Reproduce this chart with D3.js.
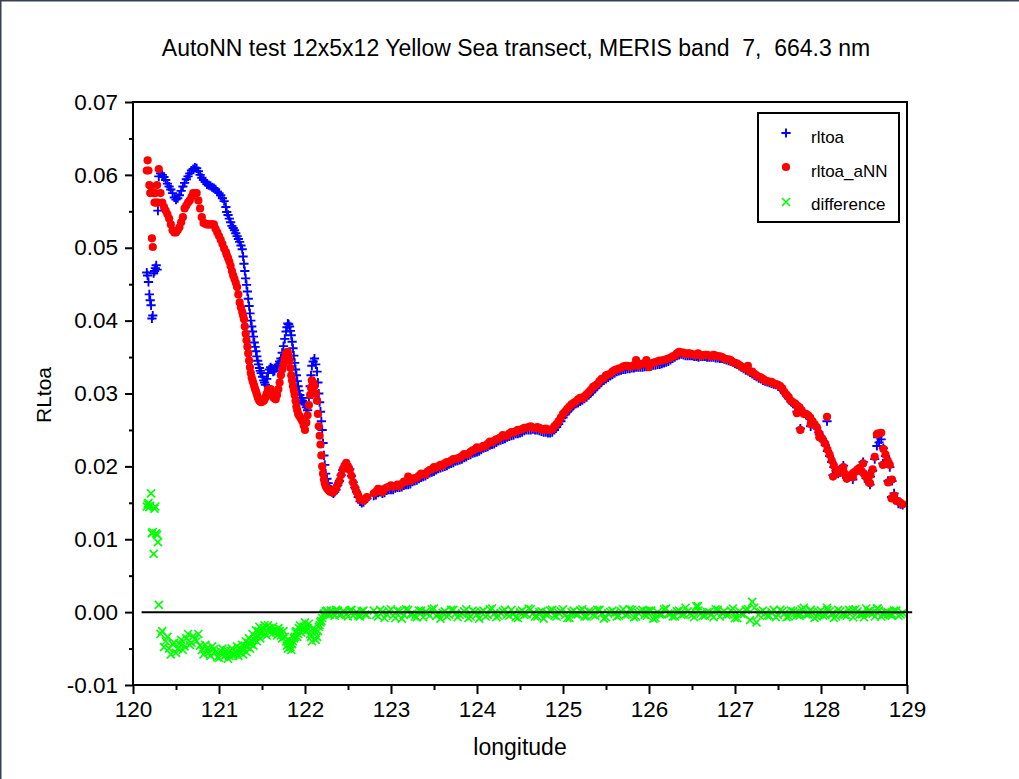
<!DOCTYPE html>
<html><head><meta charset="utf-8">
<script src="https://cdn.jsdelivr.net/npm/d3@7"></script>
<style>html,body{margin:0;padding:0;background:#fff;overflow:hidden}svg{display:block;font-family:Arial,"Liberation Sans",sans-serif}</style>
</head><body><svg id="c" width="1019" height="779"></svg>
<script>
const titleText = "AutoNN test 12x5x12 Yellow Sea transect, MERIS band  7,  664.3 nm";
const xLabel = "longitude";
const yLabel = "RLtoa";
const seriesNames = ["rltoa", "rltoa_aNN", "difference"];
const xTicks = [120, 121, 122, 123, 124, 125, 126, 127, 128, 129];
const xMinorTicks = [120.5, 121.5, 122.5, 123.5, 124.5, 125.5, 126.5, 127.5, 128.5];
const yTicks = [-0.01, 0.00, 0.01, 0.02, 0.03, 0.04, 0.05, 0.06, 0.07];
const yMinorTicks = [-0.005, 0.005, 0.015, 0.025, 0.035, 0.045, 0.055, 0.065];
const zeroLineExtent = [120.1, 129.06];

const lon = [
 120.16,120.17,120.18,120.19,120.20,120.21,120.22,120.23,120.24,120.25,120.26,120.27,120.28,120.29,120.30,
 120.34,120.38,120.42,120.46,120.50,120.54,120.58,120.62,120.66,120.70,120.74,120.78,120.82,120.86,120.90,120.94,120.98,121.02,121.06,
 121.09,121.12,121.15,121.18,121.21,121.24,121.27,121.29,121.31,121.33,121.35,121.37,121.39,121.41,121.43,121.45,121.47,121.49,
 121.52,121.54,121.57,121.60,121.63,121.66,121.69,121.72,121.75,121.78,121.80,121.82,121.84,121.86,121.88,121.90,121.92,121.94,121.97,
 122.00,122.03,122.06,122.08,122.11,122.14,122.16,122.18,122.20,122.22,122.24,122.27,122.30,122.33,122.36,122.40,122.44,122.48,122.52,
 122.56,122.60,122.64,122.68,122.72,
 122.80,122.85,122.90,122.95,123.00,123.05,123.10,123.15,123.20,123.25,123.30,123.35,123.40,123.45,123.50,123.55,123.60,123.65,123.70,123.75,
 123.80,123.85,123.90,123.95,124.00,124.05,124.10,124.15,124.20,124.25,124.30,124.35,124.40,124.45,124.50,124.55,124.60,124.65,124.70,124.75,
 124.80,124.85,124.90,124.95,125.00,125.05,125.10,125.15,125.20,125.25,125.30,125.35,125.40,125.45,125.50,125.55,125.60,125.65,125.70,125.75,
 125.80,125.85,125.90,125.95,126.00,126.05,126.10,126.15,126.20,126.25,126.30,126.35,126.40,126.45,126.50,126.55,126.60,126.65,126.70,126.75,
 126.80,126.85,126.90,126.95,127.00,127.05,127.10,127.15,127.20,127.25,127.30,127.35,127.40,127.45,127.50,127.55,127.60,127.65,127.70,127.75,
 127.80,127.85,127.90,127.95,128.00,128.05,128.10,128.15,128.20,128.25,128.30,128.35,128.40,128.45,128.50,128.55,128.60,128.65,128.70,128.75,
 128.80,128.85,128.90,128.95,
 127.72,127.76,127.88,127.98,128.07,128.14,128.26,128.37,128.49,128.57,128.66,128.72,128.78,128.82,126.57,125.97,
 120.32,120.36,120.40,120.44,120.48,120.52,120.56,120.60,120.64,120.68,120.72,120.76,120.80,120.84,120.88,120.92,120.96,121.00,121.04,121.08,
 121.105,121.135,121.165,121.195,121.225,121.255,121.28,121.30,121.32,121.34,121.36,121.38,121.40,121.42,121.44,121.46,121.48,121.505,121.53,121.555,
 121.585,121.615,121.645,121.675,121.705,121.735,121.765,121.79,121.81,121.83,121.85,121.87,121.89,121.91,121.93,121.955,121.985,122.015,122.045,122.07,
 122.095,122.125,122.15,122.17,122.19,122.21,122.23,122.255,122.285,122.315,122.345,122.38,122.42,122.46,122.50,122.54,122.58,122.62,122.66,122.70,
 122.825,122.875,122.925,122.975,123.025,123.075,123.125,123.175,123.225,123.275,
 123.325,123.375,123.425,123.475,123.525,123.575,123.625,123.675,123.725,123.775,
 123.825,123.875,123.925,123.975,124.025,124.075,124.125,124.175,124.225,124.275,
 124.325,124.375,124.425,124.475,124.525,124.575,124.625,124.675,124.725,124.775,
 124.825,124.875,124.925,124.975,125.025,125.075,125.125,125.175,125.225,125.275,
 125.325,125.375,125.425,125.475,125.525,125.575,125.625,125.675,125.725,125.775,
 125.825,125.875,125.925,125.975,126.025,126.075,126.125,126.175,126.225,126.275,
 126.325,126.375,126.425,126.475,126.525,126.575,126.625,126.675,126.725,126.775,
 126.825,126.875,126.925,126.975,127.025,127.075,127.125,127.175,127.225,127.275,
 127.325,127.375,127.425,127.475,127.525,127.575,127.625,127.675,127.725,127.775,
 127.825,127.875,127.925,127.975,128.025,128.075,128.125,128.175,128.225,128.275,
 128.325,128.375,128.425,128.475,128.525,128.575,128.625,128.675,128.725,128.775,
 128.825,128.875,128.925
];

const rltoa = [
 .0466,.0462,.0453,.0436,.0428,.0421,.0403,.0407,.0465,.0468,.0472,.0476,.0470,.0551,.0598,
 .0600,.0593,.0584,.0575,.0566,.0572,.0584,.0594,.0602,.0608,.0609,.0600,.0593,.0587,.0585,.0582,.0577,.0572,.0564,
 .0549,.0540,.0530,.0524,.0516,.0508,.0498,.0478,.0458,.0440,.0420,.0400,.0385,.0370,.0358,.0345,.0335,.0328,
 .0318,.0312,.0328,.0336,.0330,.0335,.0340,.0348,.0365,.0385,.0396,.0392,.0380,.0362,.0342,.0325,.0310,.0298,.0290,
 .0285,.0277,.0310,.0338,.0348,.0330,.0300,.0275,.0250,.0215,.0190,.0177,.0168,.0163,.0168,.0180,.0195,.0203,.0196,
 .0178,.0165,.0152,.0151,.0156,
 .0160,.0164,.0163,.0167,.0168,.0170,.0171,.0174,.0175,.0179,.0181,.0185,.0187,.0191,.0193,.0197,.0199,.0201,.0204,.0207,
 .0209,.0212,.0215,.0218,.0220,.0223,.0226,.0229,.0231,.0235,.0237,.0240,.0242,.0245,.0246,.0249,.0250,.0251,.0250,.0248,
 .0247,.0246,.0250,.0258,.0267,.0275,.0281,.0286,.0289,.0293,.0298,.0304,.0310,.0316,.0320,.0324,.0328,.0331,.0333,.0334,
 .0335,.0336,.0336,.0337,.0338,.0339,.0340,.0341,.0343,.0346,.0350,.0353,.0353,.0352,.0352,.0351,.0351,.0351,.0350,.0350,
 .0349,.0348,.0346,.0344,.0341,.0338,.0334,.0331,.0327,.0323,.0320,.0317,.0315,.0313,.0310,.0305,.0297,.0289,.0283,.0279,
 .0273,.0268,.0261,.0253,.0241,.0229,.0214,.0199,.0190,.0194,.0184,.0187,.0192,.0196,.0189,.0179,.0194,.0228,.0237,.0214,
 .0199,.0163,.0149,.0147,
 .0275,.0252,.0255,.0244,.0262,.0188,.0201,.0182,.0206,.0175,.0240,.0204,.0180,.0158,.0352,.0338,
 .0602,.0597,.0588,.0580,.0569,.0568,.0578,.0589,.0598,.0606,.0610,.0605,.0596,.0590,.0586,.0583,.0580,.0575,.0568,.0556,
 .0545,.0535,.0527,.0520,.0512,.0503,.0488,.0468,.0449,.0430,.0410,.0392,.0378,.0364,.0351,.0340,.0331,.0323,.0315,.0320,
 .0333,.0334,.0331,.0338,.0344,.0356,.0375,.0391,.0395,.0386,.0371,.0352,.0333,.0317,.0304,.0294,.0287,.0281,.0294,.0325,
 .0344,.0340,.0315,.0288,.0262,.0232,.0202,.0183,.0172,.0165,.0165,.0174,.0188,.0200,.0200,.0187,.0171,.0158,.0150,.0154,
 .0161,.0165,.0164,.0168,.0168,.0171,.0172,.0175,.0176,.0180,
 .0183,.0186,.0189,.0192,.0195,.0198,.0200,.0203,.0205,.0208,
 .0210,.0213,.0216,.0219,.0221,.0225,.0227,.0230,.0233,.0236,
 .0238,.0241,.0243,.0245,.0247,.0250,.0250,.0250,.0249,.0247,
 .0246,.0247,.0254,.0262,.0271,.0278,.0284,.0287,.0291,.0295,
 .0301,.0307,.0313,.0318,.0322,.0326,.0330,.0332,.0333,.0334,
 .0335,.0336,.0336,.0337,.0338,.0339,.0340,.0342,.0344,.0348,
 .0352,.0354,.0352,.0352,.0351,.0350,.0351,.0350,.0350,.0349,
 .0348,.0347,.0345,.0343,.0340,.0336,.0332,.0329,.0325,.0321,
 .0318,.0316,.0314,.0312,.0308,.0301,.0293,.0286,.0281,.0276,
 .0271,.0265,.0257,.0247,.0235,.0221,.0206,.0194,.0192,.0189,
 .0186,.0190,.0194,.0192,.0184,.0186,.0210,.0233,.0225,.0207,
 .0180,.0156,.0148
];

const rltoaANN = [
 .0606,.0620,.0606,.0586,.0575,.0584,.0513,.0501,.0575,.0562,.0575,.0562,.0586,.0562,.0608,
 .0562,.0551,.0540,.0524,.0521,.0528,.0542,.0558,.0565,.0575,.0575,.0554,.0534,.0532,.0532,.0532,.0521,.0511,.0499,
 .0490,.0481,.0468,.0457,.0446,.0425,.0412,.0402,.0382,.0364,.0345,.0328,.0318,.0310,.0303,.0295,.0290,.0288,
 .0290,.0295,.0305,.0306,.0295,.0292,.0306,.0325,.0340,.0355,.0357,.0345,.0325,.0310,.0298,.0282,.0272,.0268,.0262,
 .0250,.0270,.0298,.0318,.0310,.0290,.0255,.0230,.0200,.0182,.0173,.0168,.0165,.0165,.0170,.0180,.0196,.0205,.0195,
 .0178,.0165,.0155,.0153,.0158,
 .0163,.0169,.0165,.0171,.0174,.0173,.0173,.0179,.0186,.0182,.0184,.0190,.0189,.0195,.0199,.0200,.0201,.0206,.0208,.0210,
 .0212,.0217,.0217,.0222,.0226,.0226,.0228,.0234,.0235,.0238,.0243,.0242,.0247,.0248,.0250,.0253,.0254,.0253,.0254,.0251,
 .0252,.0250,.0255,.0262,.0272,.0279,.0285,.0289,.0294,.0296,.0302,.0309,.0313,.0320,.0325,.0327,.0332,.0334,.0337,.0338,
 .0337,.0346,.0340,.0341,.0336,.0342,.0344,.0345,.0347,.0349,.0352,.0357,.0356,.0355,.0354,.0353,.0352,.0353,.0352,.0353,
 .0351,.0350,.0347,.0346,.0342,.0339,.0335,.0338,.0330,.0325,.0322,.0318,.0316,.0314,.0312,.0307,.0298,.0290,.0286,.0281,
 .0272,.0270,.0262,.0254,.0240,.0231,.0216,.0201,.0191,.0196,.0183,.0188,.0193,.0198,.0190,.0180,.0196,.0244,.0246,.0216,
 .0202,.0160,.0152,.0148,
 .0273,.0250,.0258,.0240,.0268,.0186,.0199,.0185,.0204,.0177,.0245,.0202,.0178,.0156,.0355,.0346,
 .0575,.0556,.0546,.0532,.0521,.0524,.0535,.0554,.0562,.0570,.0575,.0565,.0542,.0533,.0532,.0532,.0526,.0516,.0505,.0494,
 .0486,.0475,.0462,.0452,.0436,.0418,.0407,.0392,.0373,.0355,.0336,.0322,.0314,.0306,.0299,.0292,.0289,.0289,.0292,.0300,
 .0306,.0300,.0293,.0298,.0315,.0333,.0348,.0356,.0352,.0335,.0318,.0304,.0290,.0277,.0270,.0265,.0256,.0260,.0284,.0308,
 .0315,.0300,.0272,.0242,.0215,.0190,.0177,.0170,.0166,.0164,.0167,.0175,.0188,.0201,.0200,.0187,.0171,.0160,.0154,.0155,
 .0165,.0168,.0169,.0172,.0172,.0175,.0176,.0179,.0180,.0184,
 .0187,.0189,.0193,.0196,.0198,.0202,.0204,.0206,.0210,.0211,
 .0214,.0216,.0220,.0223,.0225,.0228,.0231,.0233,.0237,.0240,
 .0242,.0245,.0246,.0250,.0251,.0253,.0255,.0252,.0253,.0250,
 .0250,.0251,.0258,.0267,.0275,.0282,.0287,.0292,.0293,.0299,
 .0305,.0311,.0317,.0321,.0326,.0330,.0333,.0335,.0338,.0337,
 .0339,.0338,.0341,.0342,.0341,.0343,.0345,.0346,.0348,.0351,
 .0355,.0356,.0354,.0355,.0353,.0354,.0352,.0353,.0351,.0352,
 .0351,.0348,.0347,.0343,.0341,.0337,.0334,.0330,.0327,.0323,
 .0320,.0317,.0316,.0313,.0310,.0302,.0295,.0288,.0283,.0277,
 .0272,.0267,.0258,.0246,.0236,.0223,.0208,.0196,.0193,.0190,
 .0187,.0191,.0196,.0193,.0185,.0188,.0213,.0245,.0224,.0208,
 .0182,.0153,.0150
];

const difference = [
 .0145,.0148,.0150,.0144,.0146,.0163,.0108,.0110,.0080,.0142,.0145,.0108,.0106,.0096,.0010,
 -.0026,-.0040,-.0050,-.0044,-.0056,-.0043,-.0052,-.0036,-.0045,-.0033,-.0040,-.0046,-.0058,-.0050,-.0060,-.0051,-.0062,-.0054,-.0061,
 -.0052,-.0060,-.0050,-.0058,-.0047,-.0055,-.0045,-.0052,-.0040,-.0048,-.0036,-.0044,-.0030,-.0038,-.0025,-.0033,-.0020,-.0030,
 -.0022,-.0030,-.0018,-.0026,-.0020,-.0028,-.0022,-.0032,-.0026,-.0040,-.0050,-.0044,-.0052,-.0040,-.0034,-.0026,-.0030,-.0018,-.0024,
 -.0014,-.0022,-.0030,-.0040,-.0026,-.0034,-.0020,-.0014,-.0008,-.0002,.0001,-.0003,.0002,-.0002,.0003,-.0004,.0001,-.0003,.0002,
 -.0005,.0000,-.0006,.0002,-.0004,
 .0002,-.0006,.0000,-.0003,.0004,-.0008,.0001,-.0004,.0003,-.0002,
 -.0007,.0002,.0000,-.0005,.0005,-.0003,-.0001,-.0006,.0003,-.0002,
 -.0004,.0001,-.0008,.0002,-.0003,.0000,-.0006,.0004,-.0002,-.0005,
 .0001,-.0003,.0003,-.0007,.0000,-.0004,.0005,-.0002,-.0006,.0001,
 -.0003,.0002,-.0005,-.0001,.0004,-.0008,.0000,-.0003,.0002,-.0006,
 .0001,-.0004,.0003,-.0002,-.0007,.0000,-.0001,-.0005,.0004,-.0003,
 .0003,-.0006,.0001,-.0004,.0002,-.0009,.0000,-.0003,.0005,-.0002,
 -.0006,.0002,-.0003,.0001,-.0004,.0008,-.0002,-.0005,.0000,-.0007,
 .0003,-.0001,-.0004,.0002,-.0008,.0001,-.0003,.0004,.0014,-.0014,
 .0000,-.0002,-.0005,.0003,-.0004,.0001,-.0007,.0002,-.0001,-.0005,
 .0006,-.0003,.0000,-.0006,.0002,-.0004,.0001,-.0008,.0003,-.0002,
 -.0005,.0000,.0004,-.0003,-.0007,.0001,-.0002,.0005,-.0006,.0000,
 -.0003,.0002,-.0005,-.0001,
 -.0002,-.0002,.0003,-.0004,.0006,-.0002,-.0002,.0003,-.0002,.0002,.0005,-.0002,-.0002,-.0002,.0008,.0001,
 -.0030,-.0048,-.0034,-.0058,-.0042,-.0050,-.0038,-.0047,-.0030,-.0042,-.0037,-.0030,-.0052,-.0045,-.0056,-.0047,-.0055,-.0063,-.0050,-.0058,
 -.0064,-.0053,-.0060,-.0054,-.0060,-.0050,-.0058,-.0046,-.0055,-.0042,-.0050,-.0040,-.0046,-.0034,-.0040,-.0026,-.0036,-.0028,-.0018,-.0032,
 -.0022,-.0030,-.0024,-.0032,-.0026,-.0036,-.0034,-.0046,-.0038,-.0048,-.0044,-.0036,-.0028,-.0034,-.0022,-.0028,-.0020,-.0026,-.0016,-.0034,
 -.0022,-.0038,-.0026,-.0018,-.0012,-.0004,-.0002,.0002,-.0004,.0001,-.0005,.0002,-.0003,.0000,-.0006,.0003,-.0002,-.0005,.0001,-.0003,
 -.0004,.0003,-.0008,.0001,-.0005,.0002,-.0009,.0004,-.0003,-.0006,
 .0002,-.0007,-.0001,.0004,-.0005,-.0009,.0001,-.0004,.0003,-.0007,
 -.0002,.0004,-.0006,.0000,-.0009,.0002,-.0004,.0005,-.0007,-.0001,
 .0003,-.0005,-.0002,-.0008,.0002,-.0003,.0004,-.0006,.0000,-.0009,
 -.0002,.0003,-.0006,.0001,-.0004,-.0008,.0002,-.0003,.0004,-.0006,
 .0000,-.0005,.0003,-.0009,-.0002,.0002,-.0006,.0001,-.0004,.0004,
 -.0007,-.0001,.0003,-.0005,.0002,-.0008,-.0003,.0004,-.0002,-.0006,
 .0001,-.0004,.0006,-.0002,-.0007,.0002,-.0005,.0000,-.0003,.0004,
 -.0006,.0001,-.0003,.0005,-.0008,-.0002,.0003,-.0011,.0006,-.0004,
 .0002,-.0005,.0000,-.0007,.0003,-.0002,-.0006,.0001,-.0004,.0004,
 -.0003,.0002,-.0008,.0000,-.0005,.0003,-.0002,-.0006,.0001,-.0004,
 .0003,-.0007,.0001,-.0003,.0005,-.0001,-.0006,.0002,-.0004,.0000,
 -.0005,.0002,-.0003
];

const svg = d3.select("#c");
const W = 1019, H = 779;
const x = d3.scaleLinear().domain([120, 129]).range([133, 907]);
const y = d3.scaleLinear().domain([-0.01, 0.07]).range([685, 102]);

const plusPath = "M-4.6,0H4.6M0,-4.6V4.6";
const crossPath = "M-4,-4L4,4M-4,4L4,-4";

// outer frame (top and left edges)
svg.append("line").attr("x1", 0).attr("x2", W).attr("y1", 0.75).attr("y2", 0.75).attr("stroke", "#3b4150").attr("stroke-width", 1.5);
svg.append("line").attr("x1", 0.75).attr("x2", 0.75).attr("y1", 0).attr("y2", H).attr("stroke", "#3b4150").attr("stroke-width", 1.5);

// title
svg.append("text").attr("x", 516).attr("y", 56).attr("text-anchor", "middle")
  .style("white-space", "pre").attr("font-size", 23).attr("fill", "#000").text(titleText);

const mk = arr => lon.map((l, i) => ({ lon: l, v: arr[i] }));

const gPts = svg.append("g");
gPts.append("g").selectAll("path").data(mk(rltoa)).join("path")
  .attr("transform", d => `translate(${x(d.lon)},${y(d.v)})`)
  .attr("d", plusPath).attr("stroke", "#0000ff").attr("stroke-width", 1.9).attr("fill", "none");
gPts.append("g").selectAll("circle").data(mk(rltoaANN)).join("circle")
  .attr("cx", d => x(d.lon)).attr("cy", d => y(d.v)).attr("r", 4.1).attr("fill", "#ff0000");
gPts.append("g").selectAll("path").data(mk(difference)).join("path")
  .attr("transform", d => `translate(${x(d.lon)},${y(d.v)})`)
  .attr("d", crossPath).attr("stroke", "#00ff00").attr("stroke-width", 1.6).attr("fill", "none");

// zero line
svg.append("line").attr("x1", x(zeroLineExtent[0])).attr("x2", x(zeroLineExtent[1]))
  .attr("y1", y(0)).attr("y2", y(0)).attr("stroke", "#000").attr("stroke-width", 2);

// frame
svg.append("rect").attr("x", 133).attr("y", 102).attr("width", 907 - 133).attr("height", 685 - 102)
  .attr("fill", "none").attr("stroke", "#000").attr("stroke-width", 2);

// axes
const yAx = svg.append("g").attr("transform", "translate(133,0)")
  .call(d3.axisLeft(y).tickValues(yTicks).tickSize(8).tickPadding(7).tickFormat(d => d.toFixed(2)));
const yMin = svg.append("g").attr("transform", "translate(133,0)")
  .call(d3.axisLeft(y).tickValues(yMinorTicks).tickSize(4).tickFormat(""));
const xAx = svg.append("g").attr("transform", "translate(0,685)")
  .call(d3.axisBottom(x).tickValues(xTicks).tickSize(9).tickPadding(7).tickFormat(d => String(d)));
const xMin = svg.append("g").attr("transform", "translate(0,685)")
  .call(d3.axisBottom(x).tickValues(xMinorTicks).tickSize(5).tickFormat(""));
[yAx, yMin, xAx, xMin].forEach(g => {
  g.select(".domain").remove();
  g.selectAll("line").attr("stroke", "#000").attr("stroke-width", 2);
  g.selectAll("text").attr("font-size", 22.5).attr("fill", "#000").attr("font-family", "Arial, 'Liberation Sans', sans-serif");
});

// axis labels
svg.append("text").attr("x", 520).attr("y", 755).attr("text-anchor", "middle").attr("font-size", 23).text(xLabel);
svg.append("text").attr("transform", "translate(51,395) rotate(-90)").attr("text-anchor", "middle").attr("font-size", 21).text(yLabel);

// legend
const lg = svg.append("g");
lg.append("rect").attr("x", 758).attr("y", 113).attr("width", 141).attr("height", 109)
  .attr("fill", "#fff").attr("stroke", "#000").attr("stroke-width", 2);
const rows = [137, 171, 204];
lg.append("path").attr("transform", `translate(786,${rows[0] - 4})`).attr("d", plusPath).attr("stroke", "#0000ff").attr("stroke-width", 1.9);
lg.append("circle").attr("cx", 786).attr("cy", rows[1] - 4).attr("r", 4.1).attr("fill", "#ff0000");
lg.append("path").attr("transform", `translate(786,${rows[2] - 2})`).attr("d", crossPath).attr("stroke", "#00ff00").attr("stroke-width", 1.6);
seriesNames.forEach((n, i) => {
  lg.append("text").attr("x", 811).attr("y", rows[i]).attr("dy", "0.35em").attr("font-size", 17).attr("fill", "#000").text(n);
});
</script></body></html>
